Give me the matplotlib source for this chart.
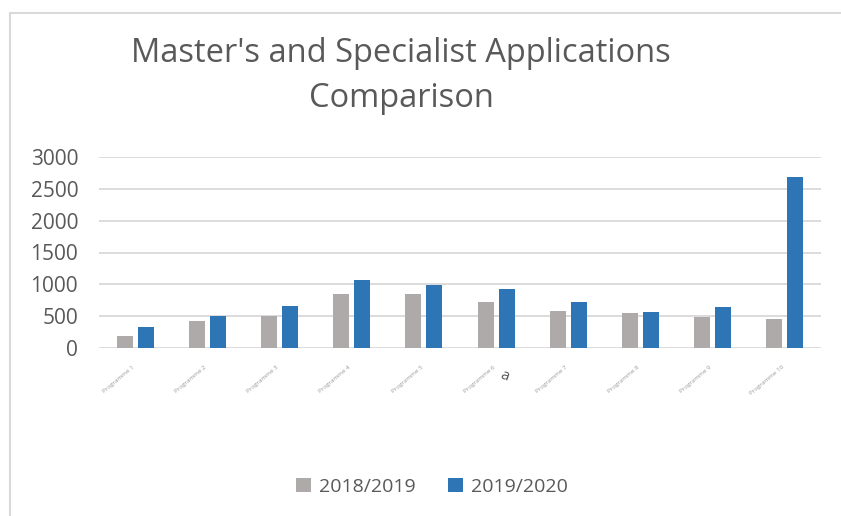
import matplotlib
matplotlib.use("Agg")
import matplotlib.pyplot as plt
import numpy as np
from matplotlib.lines import Line2D
from matplotlib.patches import Patch

categories = ["Programme 1", "Programme 2", "Programme 3", "Programme 4", "Programme 5",
              "Programme 6", "Programme 7", "Programme 8", "Programme 9", "Programme 10"]
series_names = ["2018/2019", "2019/2020"]
values_2018 = [188, 424, 503, 848, 848, 723, 581, 550, 492, 455]
values_2019 = [330, 503, 660, 1068, 990, 927, 723, 560, 644, 2691]
yticks = [0, 500, 1000, 1500, 2000, 2500, 3000]

plt.rcParams['font.family'] = ['Open Sans', 'DejaVu Sans']
TXT = "#595959"
GRAY = "#AEAAAA"
BLUE = "#2E75B6"

fig = plt.figure(figsize=(8.41, 5.16), dpi=100)
ax = fig.add_axes([99/841, 1-348/516, 722/841, 191/516])

x = np.arange(len(categories))
w = 0.22
ax.bar(x - 0.145, values_2018, width=w, color=GRAY, zorder=3)
ax.bar(x + 0.145, values_2019, width=w, color=BLUE, zorder=3)

ax.set_xlim(-0.5, len(categories) - 0.5)
ax.set_ylim(0, 3000)
ax.set_yticks(yticks)
ax.set_yticklabels([str(v) for v in yticks], fontsize=15, color=TXT)
ax.tick_params(axis='y', length=0, pad=15)
ax.tick_params(axis='x', length=0, pad=12)
ax.set_xticks(x)
ax.set_xticklabels(categories, fontsize=4.5, rotation=40, ha='right', color="#9a9a9a")
ax.grid(axis='y', color="#D9D9D9", linewidth=1.3, zorder=0)
for s in ax.spines.values():
    s.set_visible(False)

fig.text(0.477, 1-76/516, "Master's and Specialist Applications\nComparison",
         ha='center', va='center', fontsize=23.5, color=TXT, linespacing=1.45)
fig.text(504/841, 1-376/516, "a", ha='center', va='center', fontsize=11, color=TXT, rotation=-20)

handles = [Patch(facecolor=GRAY), Patch(facecolor=BLUE)]
fig.legend(handles, series_names, loc='center', bbox_to_anchor=(432/841, 1-487/516),
           ncol=2, frameon=False, fontsize=14, labelcolor=TXT, handlelength=0.75,
           handleheight=0.75, handletextpad=0.4, columnspacing=1.7)

# outer frame
fig.add_artist(Line2D([10/841, 10/841], [0, 1-13/516], color="#D9D9D9", lw=1.5))
fig.add_artist(Line2D([10/841, 1], [1-13/516, 1-13/516], color="#D9D9D9", lw=1.5))

fig.savefig("out.png", dpi=100)
